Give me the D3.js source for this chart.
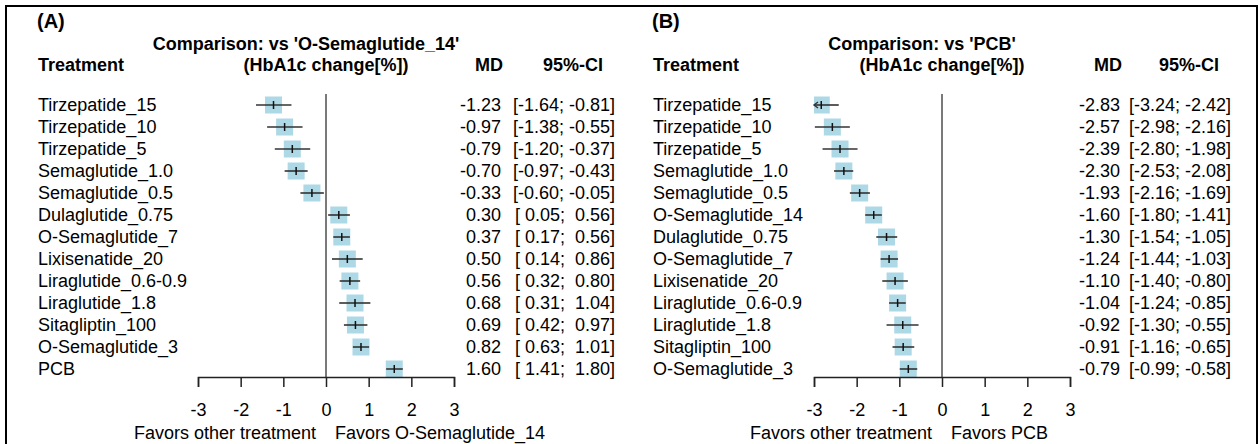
<!DOCTYPE html>
<html>
<head>
<meta charset="utf-8">
<script src="https://cdn.jsdelivr.net/npm/d3@7"></script>
<style>
  body { margin: 0; background: #fff; }
  text { font-family: "Liberation Sans", Arial, sans-serif; white-space: pre; }
</style>
</head>
<body>
<div id="viz"></div>
<script>
// panel A: vs O-Semaglutide_14
var treatA = ['Tirzepatide_15', 'Tirzepatide_10', 'Tirzepatide_5', 'Semaglutide_1.0', 'Semaglutide_0.5',
  'Dulaglutide_0.75', 'O-Semaglutide_7', 'Lixisenatide_20', 'Liraglutide_0.6-0.9', 'Liraglutide_1.8',
  'Sitagliptin_100', 'O-Semaglutide_3', 'PCB']
var mdA = [-1.23, -0.97, -0.79, -0.70, -0.33, 0.30, 0.37, 0.50, 0.56, 0.68, 0.69, 0.82, 1.60]
var loA = [-1.64, -1.38, -1.20, -0.97, -0.60, 0.05, 0.17, 0.14, 0.32, 0.31, 0.42, 0.63, 1.41]
var hiA = [-0.81, -0.55, -0.37, -0.43, -0.05, 0.56, 0.56, 0.86, 0.80, 1.04, 0.97, 1.01, 1.80]

// panel B: vs PCB
var treatB = ['Tirzepatide_15', 'Tirzepatide_10', 'Tirzepatide_5', 'Semaglutide_1.0', 'Semaglutide_0.5',
  'O-Semaglutide_14', 'Dulaglutide_0.75', 'O-Semaglutide_7', 'Lixisenatide_20', 'Liraglutide_0.6-0.9',
  'Liraglutide_1.8', 'Sitagliptin_100', 'O-Semaglutide_3']
var mdB = [-2.83, -2.57, -2.39, -2.30, -1.93, -1.60, -1.30, -1.24, -1.10, -1.04, -0.92, -0.91, -0.79]
var loB = [-3.24, -2.98, -2.80, -2.53, -2.16, -1.80, -1.54, -1.44, -1.40, -1.24, -1.30, -1.16, -0.99]
var hiB = [-2.42, -2.16, -1.98, -2.08, -1.69, -1.41, -1.05, -1.03, -0.80, -0.85, -0.55, -0.65, -0.58]

var xTicks = [-3, -2, -1, 0, 1, 2, 3]

var width = 1260, height = 444
var fs = 18, boxSize = 17

var svg = d3.select('#viz').append('svg')
  .attr('width', width)
  .attr('height', height)

svg.append('rect')
  .attr('x', 6).attr('y', 6)
  .attr('width', 1251).attr('height', 470)
  .attr('fill', 'none')
  .attr('stroke', '#000')
  .attr('stroke-width', 2)

function fmt(v) {
  return (v < 0 ? '' : ' ') + v.toFixed(2)
}

function panel(opt) {
  var g = svg.append('g')
  var x = d3.scaleLinear().domain([-3, 3]).range([opt.x0 - 128, opt.x0 + 128])
  var y = d3.scaleBand().domain(d3.range(opt.names.length)).range([94, 380]).paddingInner(0)
  var yc = function(i) { return y(i) + y.bandwidth() / 2 }

  g.append('text').attr('x', opt.left - 1).attr('y', 21).attr('dy', '0.35em')
    .style('font-size', '20px').style('font-weight', 'bold').text(opt.tag)
  g.append('text').attr('x', x(0) - 20).attr('y', 44).attr('dy', '0.35em')
    .attr('text-anchor', 'middle')
    .style('font-size', fs + 'px').style('font-weight', 'bold').text(opt.title)
  g.append('text').attr('x', opt.left).attr('y', 65).attr('dy', '0.35em')
    .style('font-size', fs + 'px').style('font-weight', 'bold').text('Treatment')
  g.append('text').attr('x', x(0)).attr('y', 65).attr('dy', '0.35em')
    .attr('text-anchor', 'middle')
    .style('font-size', fs + 'px').style('font-weight', 'bold').text('(HbA1c change[%])')
  g.append('text').attr('x', opt.mdRight + 2).attr('y', 65).attr('dy', '0.35em')
    .attr('text-anchor', 'end')
    .style('font-size', fs + 'px').style('font-weight', 'bold').text('MD')
  g.append('text').attr('x', opt.ciRight - 12).attr('y', 65).attr('dy', '0.35em')
    .attr('text-anchor', 'end')
    .style('font-size', fs + 'px').style('font-weight', 'bold').text('95%-CI')

  // zero line
  g.append('line')
    .attr('x1', x(0)).attr('x2', x(0))
    .attr('y1', 94).attr('y2', 377)
    .attr('stroke', '#7a7a7a').attr('stroke-width', 2)

  var rows = g.selectAll('g.row').data(opt.names).enter().append('g').attr('class', 'row')

  rows.append('text')
    .attr('x', opt.left).attr('y', function(d, i) { return yc(i) }).attr('dy', '0.35em')
    .style('font-size', fs + 'px').text(function(d) { return d })

  // squares, clipped to axis range
  rows.append('rect')
    .attr('x', function(d, i) { return Math.max(x(-3), x(opt.md[i]) - boxSize / 2) })
    .attr('y', function(d, i) { return yc(i) - boxSize / 2 })
    .attr('width', function(d, i) {
      var l = Math.max(x(-3), x(opt.md[i]) - boxSize / 2)
      var r = Math.min(x(3), x(opt.md[i]) + boxSize / 2)
      return r - l
    })
    .attr('height', boxSize)
    .attr('fill', '#add8e6')

  rows.append('line')
    .attr('x1', function(d, i) { return x(Math.max(-3, opt.lo[i])) })
    .attr('x2', function(d, i) { return x(Math.min(3, opt.hi[i])) })
    .attr('y1', function(d, i) { return yc(i) })
    .attr('y2', function(d, i) { return yc(i) })
    .attr('stroke', '#333').attr('stroke-width', 1.6)

  rows.append('line')
    .attr('x1', function(d, i) { return x(opt.md[i]) })
    .attr('x2', function(d, i) { return x(opt.md[i]) })
    .attr('y1', function(d, i) { return yc(i) - 4 })
    .attr('y2', function(d, i) { return yc(i) + 4 })
    .attr('stroke', '#111').attr('stroke-width', 1.5)

  // arrow where the CI goes past the axis
  rows.filter(function(d, i) { return opt.lo[i] < -3 })
    .append('path')
    .attr('d', function(d) {
      var i2 = opt.names.indexOf(d)
      var ax = x(-3), ay = yc(i2)
      return 'M' + (ax + 4) + ',' + (ay - 3) + 'L' + ax + ',' + ay + 'L' + (ax + 4) + ',' + (ay + 3)
    })
    .attr('fill', 'none').attr('stroke', '#333').attr('stroke-width', 1.4)

  rows.append('text')
    .attr('x', opt.mdRight).attr('y', function(d, i) { return yc(i) }).attr('dy', '0.35em')
    .attr('text-anchor', 'end')
    .style('font-size', fs + 'px').text(function(d, i) { return opt.md[i].toFixed(2) })

  rows.append('text')
    .attr('x', opt.ciRight).attr('y', function(d, i) { return yc(i) }).attr('dy', '0.35em')
    .attr('text-anchor', 'end')
    .style('font-size', fs + 'px')
    .text(function(d, i) { return '[' + fmt(opt.lo[i]) + '; ' + fmt(opt.hi[i]) + ']' })

  var axis = g.append('g')
    .attr('transform', 'translate(0,377)')
    .call(d3.axisBottom(x).tickValues(xTicks).tickSize(10).tickPadding(16))
  axis.select('.domain').attr('stroke', '#222').attr('stroke-width', 1.5)
  axis.selectAll('.tick line').attr('stroke', '#222').attr('stroke-width', 1.5)
  axis.selectAll('.tick text')
    .style('font-size', fs + 'px').style('font-family', '"Liberation Sans", Arial, sans-serif')
    .attr('fill', '#000')
    .text(function(d) { return d < 0 ? '-' + Math.abs(d) : d })

  g.append('text').attr('x', x(0) - 10).attr('y', 433).attr('dy', '0.35em')
    .attr('text-anchor', 'end')
    .style('font-size', fs + 'px').text('Favors other treatment')
  g.append('text').attr('x', x(0) + 9).attr('y', 433).attr('dy', '0.35em')
    .style('font-size', fs + 'px').text(opt.favR)
}

panel({ tag: '(A)', title: "Comparison: vs 'O-Semaglutide_14'", favR: 'Favors O-Semaglutide_14',
  names: treatA, md: mdA, lo: loA, hi: hiA, left: 38, x0: 326, mdRight: 501, ciRight: 615 })
panel({ tag: '(B)', title: "Comparison: vs 'PCB'", favR: 'Favors PCB',
  names: treatB, md: mdB, lo: loB, hi: hiB, left: 653, x0: 942, mdRight: 1120, ciRight: 1231 })
</script>
</body>
</html>
